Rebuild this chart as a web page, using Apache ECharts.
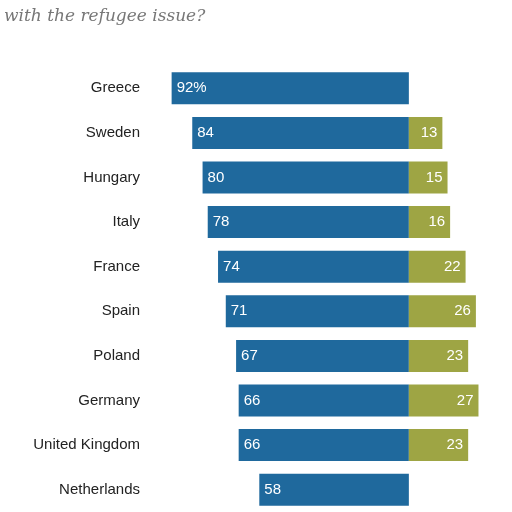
<!DOCTYPE html>
<html><head><meta charset="utf-8">
<script src="https://cdn.jsdelivr.net/npm/echarts@6/dist/echarts.min.js"></script>
<style>html,body{margin:0;padding:0;background:#fff}#c{width:512px;height:512px}</style>
</head><body><div id="c"></div>
<script>
const categories = ["Greece","Sweden","Hungary","Italy","France","Spain","Poland","Germany","United Kingdom","Netherlands"];
const disapprove = [92,84,80,78,74,71,67,66,66,58];
const approve = [null,13,15,16,22,26,23,27,23,null];

const chart = echarts.init(document.getElementById('c'));
chart.setOption({
  animation:false,
  graphic:[{type:'text',left:4,top:8,style:{text:'with the refugee issue?',font:'italic 17px "DejaVu Serif", serif',fill:'#777'}}],
  grid:{left:151,width:363,top:66,height:460},
  xAxis:{type:'value',min:-100,max:40,show:false},
  yAxis:{type:'category',inverse:true,data:categories,axisLine:{show:false},axisTick:{show:false},
    axisLabel:{color:'#222',fontSize:15,fontFamily:'Liberation Sans, Arial',margin:11}},
  series:[
    {type:'bar',stack:'s',barWidth:32,data:disapprove.map(v=>-v),itemStyle:{color:'#1f699d'},
     label:{show:true,position:'insideLeft',color:'#fff',fontSize:15,fontFamily:'Liberation Sans, Arial',
       formatter:p=>p.dataIndex===0?(-p.value)+'%':String(-p.value)}},
    {type:'bar',stack:'s',barWidth:32,data:approve,itemStyle:{color:'#9ea544'},
     label:{show:true,position:'insideRight',color:'#fff',fontSize:15,fontFamily:'Liberation Sans, Arial'}}
  ]
});
</script></body></html>
